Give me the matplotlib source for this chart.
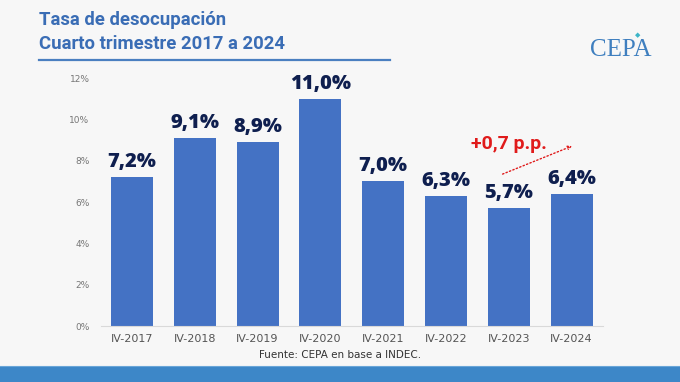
import matplotlib.pyplot as plt
from matplotlib.patches import Rectangle

periodos = ["IV-2017", "IV-2018", "IV-2019", "IV-2020", "IV-2021", "IV-2022", "IV-2023", "IV-2024"]
tasa = [7.2, 9.1, 8.9, 11.0, 7.0, 6.3, 5.7, 6.4]
etiquetas = ["7,2%", "9,1%", "8,9%", "11,0%", "7,0%", "6,3%", "5,7%", "6,4%"]
yticks = [0, 2, 4, 6, 8, 10, 12]

fondo = "#f7f7f7"
azul_barra = "#4472c4"
azul_titulo = "#3a6db5"
navy = "#0f1f4f"
rojo = "#e01b1b"

fig = plt.figure(figsize=(6.8, 3.82), dpi=100, facecolor=fondo)

# titulo
fig.text(39 / 680, 1 - 20 / 382, "Tasa de desocupación", fontsize=13.3, fontweight="bold",
         color=azul_titulo, family="Roboto", va="center", ha="left")
fig.text(39 / 680, 1 - 44 / 382, "Cuarto trimestre 2017 a 2024", fontsize=13.3, fontweight="bold",
         color=azul_titulo, family="Roboto", va="center", ha="left")
fig.add_artist(plt.Line2D([39 / 680, 390 / 680], [1 - 60 / 382] * 2, color="#4a7fc0", lw=1.6))

# logo
fig.text(621 / 680, 1 - 50 / 382, "CEPA", fontsize=18, color="#3f7fbf", family="Liberation Serif",
         ha="center", va="center")
fig.text(638 / 680, 1 - 35 / 382, "◆", fontsize=5, color="#3cb5c8", ha="center", va="center")

# banda inferior
fig.add_artist(Rectangle((0, 0), 1, 16 / 382, transform=fig.transFigure, color="#3d87c8", lw=0))
fig.add_artist(plt.Line2D([0, 1], [16 / 382] * 2, color="#6aa6d8", lw=0.8))

ax = fig.add_axes([100.6 / 680, 1 - 326 / 382, (603 - 100.6) / 680, (326 - 78) / 382])
ax.set_facecolor(fondo)
x = range(len(periodos))
ax.bar(x, tasa, width=0.67, color=azul_barra, zorder=2)
for xi, v, t in zip(x, tasa, etiquetas):
    ax.text(xi, v + 0.25, t, ha="center", va="bottom", fontsize=14.5, fontweight="heavy",
            color=navy, family="Open Sans")

ax.set_xlim(-0.5, len(periodos) - 0.5)
ax.set_ylim(0, 12)
ax.set_yticks(yticks)
ax.set_yticklabels([f"{v}%" for v in yticks], fontsize=6.5, color="#777777")
ax.set_xticks(list(x))
ax.set_xticklabels(periodos, fontsize=8, color="#555555", family=["Liberation Sans Narrow", "DejaVu Sans"])
ax.tick_params(axis="both", length=0)
ax.tick_params(axis="y", pad=8)
ax.tick_params(axis="x", pad=6)
for s in ["top", "right", "left"]:
    ax.spines[s].set_visible(False)
ax.spines["bottom"].set_color("#d9d9d9")

ax.annotate("", xy=(7.05, 8.76), xytext=(5.86, 7.3),
            arrowprops=dict(arrowstyle="->", color=rojo, lw=1, linestyle=":", mutation_scale=6))
ax.text(6.0, 8.8, "+0,7 p.p.", ha="center", va="center", fontsize=14, fontweight="bold",
        color=rojo, family="Roboto")

fig.text(340 / 680, 1 - 355 / 382, "Fuente: CEPA en base a INDEC.", fontsize=7.5, color="#333333",
         family=["Liberation Sans Narrow", "DejaVu Sans"], ha="center", va="center")

fig.savefig("out.png", dpi=100, facecolor=fondo)
